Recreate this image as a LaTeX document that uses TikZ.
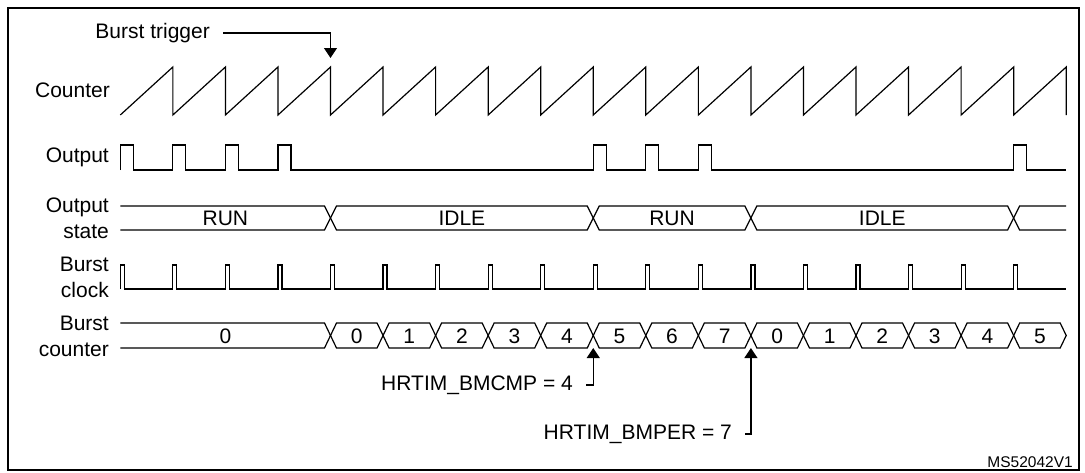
\documentclass[tikz,border=0pt]{standalone}
\usepackage{fontspec}
\setmainfont{Liberation Sans}
\usetikzlibrary{arrows.meta}

% time base of the waveforms
\newcommand{\tzero}{120.3}
\newcommand{\per}{52.55}

\begin{document}
\begin{tikzpicture}[x=1pt,y=-1pt,
    sig/.style={line width=1.2pt,line join=miter},
    lbl/.style={anchor=east,inner sep=0pt,align=right,font=\fontsize{21}{26}\selectfont},
    val/.style={inner sep=0pt,font=\fontsize{21}{24}\selectfont},
    note/.style={anchor=east,inner xsep=13pt,inner ysep=2pt,font=\fontsize{21}{24}\selectfont},
    tip/.style={-{Triangle[width=13pt,length=10pt]},line width=1.2pt}]
\useasboundingbox (0,0) rectangle (1085,472);
\draw[line width=2.5pt] (8,8) rectangle (1079,470);

    % signal names
    \node[lbl] (lcount) at (110,90) {Counter};
    \node[lbl] (lout) at (109,157) {Output};
    \node[lbl] (lstate) at (109,218.5) {Output\\state};
    \node[lbl] (lclk) at (109,277.5) {Burst\\clock};
    \node[lbl] (lbcnt) at (109,336) {Burst\\counter};

    % counter
    \draw[sig] (\tzero,115) foreach \k in {1,...,18}{
        -- ({\tzero+\k*\per},67) -- ({\tzero+\k*\per},115) };

    \node[note] (trig) at (223,33) {Burst trigger};
    \coordinate (trigtip) at ({\tzero+4*\per},58);
    \draw[tip] (trig.east) -| (trigtip);

    % output
    \draw[sig] (\tzero,170) foreach \k in {0,1,2,3,9,10,11,17}{
        -- ({\tzero+\k*\per},170) -- ({\tzero+\k*\per},145)
        -- ({\tzero+\k*\per+13},145) -- ({\tzero+\k*\per+13},170) }
        -- ({\tzero+18*\per},170);

    % output state
    \draw[sig] (\tzero,206) -- ({\tzero+4*\per-6},206) -- ({\tzero+4*\per},218)
        -- ({\tzero+4*\per-6},230) -- (\tzero,230);
    \node[val] (srun1) at ({(\tzero+\tzero+4*\per)/2},218) {RUN};
    \foreach \a/\b/\s/\n in {4/9/IDLE/sidle1,9/12/RUN/srun2,12/17/IDLE/sidle2}{
        \draw[sig] ({\tzero+\a*\per},218) -- ({\tzero+\a*\per+6},206)
            -- ({\tzero+\b*\per-6},206) -- ({\tzero+\b*\per},218)
            -- ({\tzero+\b*\per-6},230) -- ({\tzero+\a*\per+6},230) -- cycle;
        \node[val] (\n) at ({\tzero+(\a+\b)*\per/2},218) {\s};
    }
    \draw[sig] ({\tzero+18*\per},206) -- ({\tzero+17*\per+6},206) -- ({\tzero+17*\per},218)
        -- ({\tzero+17*\per+6},230) -- ({\tzero+18*\per},230);

    % burst clock
    \draw[sig] (\tzero,289) foreach \k in {0,...,17}{
        -- ({\tzero+\k*\per},289) -- ({\tzero+\k*\per},265)
        -- ({\tzero+\k*\per+4},265) -- ({\tzero+\k*\per+4},289) }
        -- ({\tzero+18*\per},289);

    % burst counter
    \draw[sig] (\tzero,323) -- ({\tzero+4*\per-6},323) -- ({\tzero+4*\per},335.5)
        -- ({\tzero+4*\per-6},348) -- (\tzero,348);
    \node[val] (bcz) at ({(\tzero+\tzero+4*\per)/2},336) {0};
    \foreach \a/\v [count=\i] in {4/0,5/1,6/2,7/3,8/4,9/5,10/6,11/7,12/0,13/1,14/2,15/3,16/4,17/5}{
        \draw[sig] ({\tzero+\a*\per},335.5) -- ({\tzero+\a*\per+6},323)
            -- ({\tzero+(\a+1)*\per-6},323) -- ({\tzero+(\a+1)*\per},335.5)
            -- ({\tzero+(\a+1)*\per-6},348) -- ({\tzero+\a*\per+6},348) -- cycle;
        \node[val] (bc\i) at ({\tzero+(\a+0.5)*\per},336) {\v};
    }

    % register marks
    \node[note] (bmcmp) at (586,385) {HRTIM\_BMCMP = 4};
    \coordinate (cmptip) at ({\tzero+9*\per},348);
    \draw[tip] (bmcmp.east) -| (cmptip);

    \node[note] (bmper) at (745,434) {HRTIM\_BMPER = 7};
    \coordinate (pertip) at ({\tzero+12*\per},348);
    \draw[tip] (bmper.east) -| (pertip);

    \node[anchor=east,inner sep=0pt,font=\fontsize{15.5}{18}\selectfont] (docid) at (1073,462) {MS52042V1};
\end{tikzpicture}
\end{document}
